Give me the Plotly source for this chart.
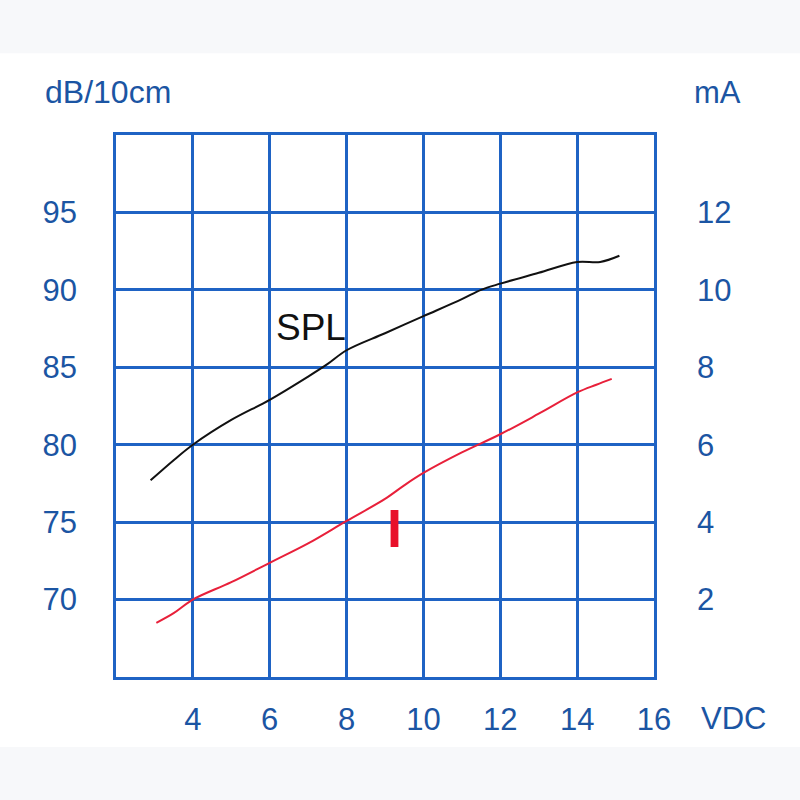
import plotly.graph_objects as go

# Data
vdc_spl = [2.9, 3.5, 4.0, 5.0, 6.0, 7.0, 7.5, 8.0, 9.0, 10.0, 11.0, 11.5, 12.0, 13.0, 14.0, 14.6, 15.1]
spl_db = [77.7, 79.0, 80.0, 81.6, 82.9, 84.4, 85.2, 86.1, 87.2, 88.3, 89.4, 90.0, 90.4, 91.1, 91.8, 91.8, 92.2]

vdc_i = [3.05, 3.5, 4.0, 5.0, 6.0, 7.0, 8.0, 9.0, 9.5, 10.0, 11.0, 12.0, 13.0, 14.0, 14.5, 14.9]
current_ma = [1.4, 1.65, 2.0, 2.45, 2.95, 3.45, 4.03, 4.6, 4.95, 5.27, 5.8, 6.27, 6.8, 7.35, 7.55, 7.7]

x_ticks = [4, 6, 8, 10, 12, 14, 16]
left_ticks = [70, 75, 80, 85, 90, 95]
right_ticks = [2, 4, 6, 8, 10, 12]

GRID = "#1f63c4"
LABEL = "#1b55a3"
FONT = "Liberation Sans, Arial, sans-serif"
TICK_SIZE = 31

fig = go.Figure()
fig.add_trace(go.Scatter(x=vdc_spl, y=spl_db, mode="lines", line=dict(color="#111111", width=2, shape="spline"),
                         yaxis="y", showlegend=False))
fig.add_trace(go.Scatter(x=vdc_i, y=current_ma, mode="lines", line=dict(color="#e8203a", width=2, shape="spline"),
                         yaxis="y2", showlegend=False))

fig.update_layout(
    width=800, height=800,
    margin=dict(l=116, r=146, t=135, b=123),
    paper_bgcolor="white", plot_bgcolor="white",
    font=dict(family=FONT, color=LABEL, size=30),
    xaxis=dict(range=[2, 16], tickvals=x_ticks, ticktext=[str(v) for v in x_ticks],
               showgrid=True, gridcolor=GRID, gridwidth=2.5,
               showline=True, linecolor=GRID, linewidth=2.5, mirror=True,
               zeroline=False, ticks="", ticklabelstandoff=13,
               tickfont=dict(size=TICK_SIZE, color=LABEL)),
    yaxis=dict(range=[65, 100], tickvals=left_ticks, ticktext=[str(v) for v in left_ticks],
               showgrid=True, gridcolor=GRID, gridwidth=2.5,
               showline=True, linecolor=GRID, linewidth=2.5, mirror=True,
               zeroline=False, ticks="", ticklabelstandoff=30,
               tickfont=dict(size=TICK_SIZE, color=LABEL)),
    yaxis2=dict(range=[0, 14], tickvals=right_ticks, ticktext=[str(v) for v in right_ticks],
                overlaying="y", side="right", showgrid=False, zeroline=False,
                showline=False, ticks="", ticklabelstandoff=42,
                tickfont=dict(size=TICK_SIZE, color=LABEL)),
    shapes=[
        dict(type="rect", xref="paper", yref="paper", x0=-0.3, x1=1.3, y0=1.151, y1=1.26,
             fillcolor="#f7f8fa", line=dict(width=0), layer="below"),
        dict(type="rect", xref="paper", yref="paper", x0=-0.3, x1=1.3, y0=-0.24, y1=-0.129,
             fillcolor="#f7f8fa", line=dict(width=0), layer="below"),
    ],
    annotations=[
        dict(text="dB/10cm", xref="paper", yref="paper", x=(108 - 116) / 538, y=(677 - 92) / 542,
             xanchor="center", yanchor="middle", showarrow=False, font=dict(size=32, color=LABEL)),
        dict(text="mA", xref="paper", yref="paper", x=(717 - 116) / 538, y=(677 - 92) / 542,
             xanchor="center", yanchor="middle", showarrow=False, font=dict(size=31, color=LABEL)),
        dict(text="VDC", xref="paper", yref="paper", x=(733 - 116) / 538, y=(677 - 718) / 542,
             xanchor="center", yanchor="middle", showarrow=False, font=dict(size=31, color=LABEL)),
        dict(text="SPL", xref="x", yref="y", x=7.07, y=87.6, xanchor="center", yanchor="middle",
             showarrow=False, font=dict(size=37, color="#111111")),
        dict(text="<b>I</b>", xref="x", yref="y2", x=9.25, y=3.85, xanchor="center", yanchor="middle",
             showarrow=False, font=dict(size=54, color="#e8102a")),
    ],
)

fig.write_html("out.html", config={"displayModeBar": False},
               post_script="document.body.style.margin='0';document.body.style.overflow='hidden';")
